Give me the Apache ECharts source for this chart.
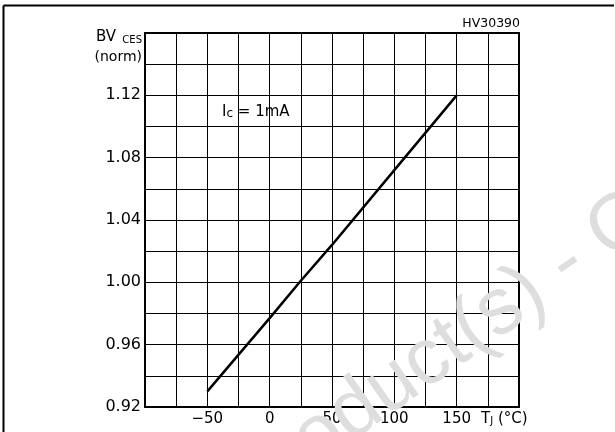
<!DOCTYPE html>
<html>
<head>
<meta charset="utf-8">
<script src="https://cdn.jsdelivr.net/npm/echarts@6/dist/echarts.min.js"></script>
<style>
html,body{margin:0;padding:0;background:#fff;}
#chart{width:615px;height:432px;}
</style>
</head>
<body>
<div id="chart"></div>
<script>
// Data
const tempC = [-50, 0, 25, 50, 100, 150];
const bvNorm = [0.930, 0.977, 1.001, 1.024, 1.072, 1.120];

const xTickValues = [-50, 0, 50, 100, 150];
const xTickLabels = ['\u221250', '0', '50', '100', '150'];
const yTickValues = [0.92, 0.96, 1.00, 1.04, 1.08, 1.12];
const yTickLabels = ['0.92', '0.96', '1.00', '1.04', '1.08', '1.12'];

const FONT = 'DejaVu Sans';

function pick(values, labels, v) {
  const i = values.findIndex(t => Math.abs(t - v) < 1e-6);
  return i >= 0 ? labels[i] : '';
}

const chart = echarts.init(document.getElementById('chart'), null, {renderer: 'canvas'});
const D = Math.PI / 180;

chart.setOption({
  animation: false,
  backgroundColor: '#fff',
  grid: {left: 145, right: 96, top: 33, bottom: 25, show: true, borderColor: '#000', borderWidth: 2, backgroundColor: 'transparent'},
  xAxis: {
    type: 'value', min: -100, max: 200, interval: 25,
    axisLine: {show: true, onZero: false, lineStyle: {color: '#000', width: 2}},
    axisTick: {show: false},
    splitLine: {show: true, lineStyle: {color: '#000', width: 1}},
    axisLabel: {
      show: true, margin: 5, color: '#000', fontFamily: FONT, fontSize: 15,
      showMinLabel: true, showMaxLabel: true,
      formatter: v => pick(xTickValues, xTickLabels, v)
    }
  },
  yAxis: {
    type: 'value', min: 0.92, max: 1.16, interval: 0.02,
    axisLine: {show: true, onZero: false, lineStyle: {color: '#000', width: 2}},
    axisTick: {show: false},
    splitLine: {show: true, lineStyle: {color: '#000', width: 1}},
    axisLabel: {
      show: true, margin: 4, color: '#000', fontFamily: FONT, fontSize: 16,
      showMinLabel: true, showMaxLabel: true,
      formatter: v => pick(yTickValues, yTickLabels, v)
    }
  },
  series: [{
    type: 'line',
    data: tempC.map((t, i) => [t, bvNorm[i]]),
    symbol: 'none',
    lineStyle: {color: '#000', width: 2.5},
    z: 5
  }],
  graphic: [
    {type: 'line', shape: {x1: 3.5, y1: 5.5, x2: 614, y2: 5.5}, style: {stroke: '#000', lineWidth: 2}, z: 50},
    {type: 'line', shape: {x1: 3.5, y1: 5.5, x2: 3.5, y2: 432}, style: {stroke: '#000', lineWidth: 2}, z: 50},
    {type: 'text', x: 520, y: 24, style: {text: 'HV30390', fontFamily: FONT, fontSize: 12.5, fill: '#000', textAlign: 'right', textVerticalAlign: 'middle'}, z: 50},
    {type: 'text', x: 96, y: 45, style: {text: 'BV', fontFamily: FONT, fontSize: 15, fill: '#000', textAlign: 'left', textVerticalAlign: 'bottom'}, z: 50},
    {type: 'text', x: 142, y: 45, style: {text: 'CES', fontFamily: FONT, fontSize: 10, fill: '#000', textAlign: 'right', textVerticalAlign: 'bottom'}, z: 50},
    {type: 'text', x: 142, y: 57, style: {text: '(norm)', fontFamily: FONT, fontSize: 14, fill: '#000', textAlign: 'right', textVerticalAlign: 'middle'}, z: 50},
    {type: 'text', x: 222, y: 112, style: {
      text: '{a|I}{b|c}{a| = 1mA}', textVerticalAlign: 'middle', textAlign: 'left',
      rich: {a: {fontFamily: FONT, fontSize: 15, fill: '#000', color: '#000'}, b: {fontFamily: FONT, fontSize: 12, fill: '#000', color: '#000', verticalAlign: 'bottom'}}
    }, z: 50},
    {type: 'text', x: 481, y: 419, style: {
      text: '{a|T}{b|J}{a| (°C)}', textVerticalAlign: 'middle', textAlign: 'left',
      rich: {a: {fontFamily: FONT, fontSize: 15, fill: '#000', color: '#000'}, b: {fontFamily: FONT, fontSize: 10, fill: '#000', color: '#000', verticalAlign: 'bottom'}}
    }, z: 50},
    {type: 'text', x: 578, y: 256, rotation: 35 * D, style: {text: 'Obsolete Product(s) -', fontFamily: 'Liberation Sans', fontSize: 80, fill: '#dedede', textAlign: 'right', textVerticalAlign: 'middle'}, z: 40},
    {type: 'text', x: 596, y: 243, rotation: 35 * D, style: {text: 'Obsolete Product(s)', fontFamily: 'Liberation Sans', fontSize: 80, fill: '#dedede', textAlign: 'left', textVerticalAlign: 'middle'}, z: 40}
  ]
});
</script>
</body>
</html>
